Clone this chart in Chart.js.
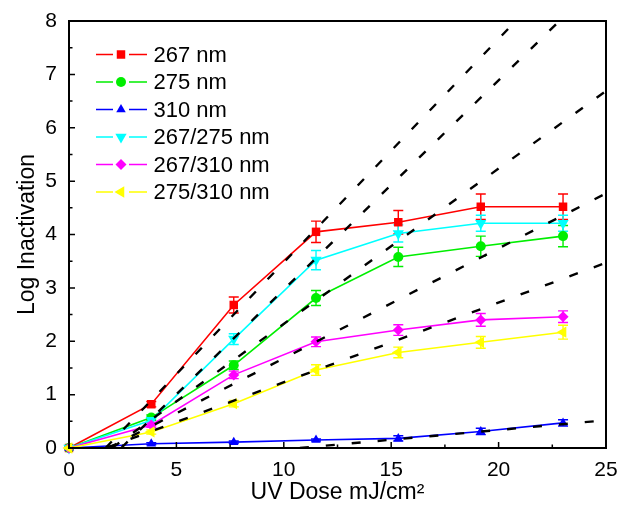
<!DOCTYPE html>
<html>
<head>
<meta charset="utf-8">
<script src="https://cdn.jsdelivr.net/npm/chart.js@4"></script>
<style>
  html, body { margin: 0; padding: 0; background: #fff; }
</style>
</head>
<body>
<canvas id="uvChart" width="620" height="506"></canvas>
<script>
// values
const doses = [0, 3.83, 7.67, 11.5, 15.33, 19.17, 23];

const seriesNames = ['267 nm', '275 nm', '310 nm', '267/275 nm', '267/310 nm', '275/310 nm'];

const nm267 = [0, 0.82, 2.68, 4.05, 4.23, 4.52, 4.52];
const nm275 = [0, 0.57, 1.55, 2.81, 3.58, 3.78, 3.97];
const nm310 = [0, 0.08, 0.11, 0.15, 0.18, 0.31, 0.47];
const nm267_275 = [0, 0.52, 2.04, 3.52, 4.02, 4.21, 4.21];
const nm267_310 = [0, 0.43, 1.37, 1.99, 2.21, 2.40, 2.46];
const nm275_310 = [0, 0.30, 0.83, 1.46, 1.79, 1.98, 2.17];

const err267 = [0, 0.05, 0.15, 0.2, 0.22, 0.24, 0.24];
const err275 = [0, 0.05, 0.08, 0.14, 0.18, 0.19, 0.2];
const err310 = [0, 0.02, 0.02, 0.02, 0.05, 0.06, 0.06];
const err267_275 = [0, 0.05, 0.1, 0.18, 0.16, 0.15, 0.15];
const err267_310 = [0, 0.04, 0.07, 0.09, 0.1, 0.12, 0.11];
const err275_310 = [0, 0.04, 0.06, 0.1, 0.1, 0.11, 0.13];

// dashed linear fits: dose where the line leaves zero, and its value at dose 25
const fitStart = [1.7, 2.43, 2.0, 1.84, 1.73, 10.75];
const fitEnd = [9.76, 8.85, 6.69, 4.77, 3.47, 0.52];

const xTicks = [0, 5, 10, 15, 20, 25];
const yTicks = [0, 1, 2, 3, 4, 5, 6, 7, 8];

const seriesValues = [nm267, nm275, nm310, nm267_275, nm267_310, nm275_310];
const seriesErrors = [err267, err275, err310, err267_275, err267_310, err275_310];
const colors = ['#ff0000', '#00ee00', '#0000ff', '#00ffff', '#ff00ff', '#ffff00'];
const styles = ['rect', 'circle', 'triangle', 'triangle', 'rectRot', 'triangle'];
const rotations = [0, 0, 0, 180, 0, -90];
const radii = [6, 5, 5.5, 6.5, 5.5, 6.5];

const fontFamily = 'Arial, "Liberation Sans", sans-serif';

const datasets = [];

// fit lines first so they sit on top
fitStart.forEach((x0, i) => {
  datasets.push({
    label: 'fit' + i,
    data: [{x: x0, y: 0}, {x: 25, y: fitEnd[i]}],
    borderColor: '#000',
    borderWidth: 2.4,
    borderDash: [9, 17],
    pointRadius: 0,
    fill: false,
    order: 0
  });
});

seriesValues.forEach((vals, i) => {
  datasets.push({
    label: seriesNames[i],
    data: vals.map((v, j) => ({x: doses[j], y: v})),
    borderColor: colors[i],
    backgroundColor: colors[i],
    borderWidth: 1.6,
    pointStyle: styles[i],
    pointRotation: rotations[i],
    pointRadius: radii[i],
    pointBorderWidth: 0,
    fill: false,
    clip: false,
    order: 7 - i
  });
});

// error bars under the lines
const errorBars = {
  id: 'errorBars',
  beforeDatasetsDraw(chart) {
    const {ctx, scales: {x, y}} = chart;
    ctx.save();
    ctx.lineWidth = 1.4;
    seriesErrors.forEach((errs, i) => {
      ctx.strokeStyle = colors[i];
      errs.forEach((e, j) => {
        if (!e) return;
        const px = x.getPixelForValue(doses[j]);
        const top = y.getPixelForValue(seriesValues[i][j] + e);
        const bot = y.getPixelForValue(seriesValues[i][j] - e);
        ctx.beginPath();
        ctx.moveTo(px, top); ctx.lineTo(px, bot);
        ctx.moveTo(px - 5, top); ctx.lineTo(px + 5, top);
        ctx.moveTo(px - 5, bot); ctx.lineTo(px + 5, bot);
        ctx.stroke();
      });
    });
    ctx.restore();
  }
};

// box frame with inward ticks
const frame = {
  id: 'frame',
  afterDraw(chart) {
    const {ctx, chartArea: a, scales: {x, y}} = chart;
    ctx.save();
    ctx.strokeStyle = '#000';
    ctx.lineWidth = 1.5;
    ctx.beginPath();
    for (let v = 0; v <= 25; v += 2.5) {
      const px = x.getPixelForValue(v);
      const len = v % 5 === 0 ? 6 : 3.5;
      ctx.moveTo(px, a.bottom); ctx.lineTo(px, a.bottom - len);
    }
    for (let v = 0; v <= 8; v += 0.5) {
      const py = y.getPixelForValue(v);
      const len = v % 1 === 0 ? 6 : 3.5;
      ctx.moveTo(a.left, py); ctx.lineTo(a.left + len, py);
    }
    ctx.stroke();
    ctx.lineWidth = 2;
    ctx.strokeRect(a.left, a.top, a.right - a.left, a.bottom - a.top);
    ctx.restore();
  }
};

// legend inside the plot, line - marker - line
const insideLegend = {
  id: 'insideLegend',
  afterDraw(chart) {
    const {ctx, chartArea: a} = chart;
    ctx.save();
    seriesNames.forEach((name, i) => {
      const yy = a.top + 33.5 + i * 27.5;
      const x0 = a.left + 27;
      ctx.strokeStyle = colors[i];
      ctx.lineWidth = 1.6;
      ctx.beginPath();
      ctx.moveTo(x0, yy); ctx.lineTo(x0 + 17, yy);
      ctx.moveTo(x0 + 33, yy); ctx.lineTo(x0 + 51, yy);
      ctx.stroke();
      ctx.fillStyle = colors[i];
      Chart.helpers.drawPoint(ctx, {
        pointStyle: styles[i], radius: radii[i], rotation: rotations[i], borderWidth: 0
      }, x0 + 25, yy);
      ctx.fillStyle = '#000';
      ctx.font = '22px ' + fontFamily;
      ctx.textBaseline = 'middle';
      ctx.textAlign = 'left';
      ctx.fillText(name, x0 + 57.5, yy + 1);
    });
    ctx.restore();
  }
};

const ctx = document.getElementById('uvChart');
const uvChart = new Chart(ctx, {
  type: 'line',
  data: { datasets: datasets },
  options: {
    responsive: false,
    animation: false,
    layout: { padding: { top: 21, right: 14, left: 0, bottom: 0 } },
    plugins: { legend: { display: false }, tooltip: { enabled: false } },
    scales: {
      x: {
        type: 'linear',
        min: 0, max: 25,
        afterFit: s => { s.height = 58; s.paddingLeft = 0; s.paddingRight = 0; },
        afterBuildTicks: s => { s.ticks = xTicks.map(v => ({value: v})); },
        grid: { display: false, drawTicks: false },
        border: { display: false },
        ticks: { color: '#000', padding: 10, font: { size: 21, family: fontFamily } },
        title: {
          display: true, text: 'UV Dose mJ/cm²', color: '#000',
          padding: { top: 0, bottom: 0 },
          font: { size: 23, family: fontFamily }
        }
      },
      y: {
        min: 0, max: 8,
        afterFit: s => { s.width = 69; s.paddingTop = 0; s.paddingBottom = 0; },
        afterBuildTicks: s => { s.ticks = yTicks.map(v => ({value: v})); },
        grid: { display: false, drawTicks: false },
        border: { display: false },
        ticks: { color: '#000', padding: 12, font: { size: 21, family: fontFamily } },
        title: {
          display: true, text: 'Log Inactivation', color: '#000',
          padding: { top: 14, bottom: 0 },
          font: { size: 23, family: fontFamily }
        }
      }
    }
  },
  plugins: [errorBars, frame, insideLegend]
});
</script>
</body>
</html>
